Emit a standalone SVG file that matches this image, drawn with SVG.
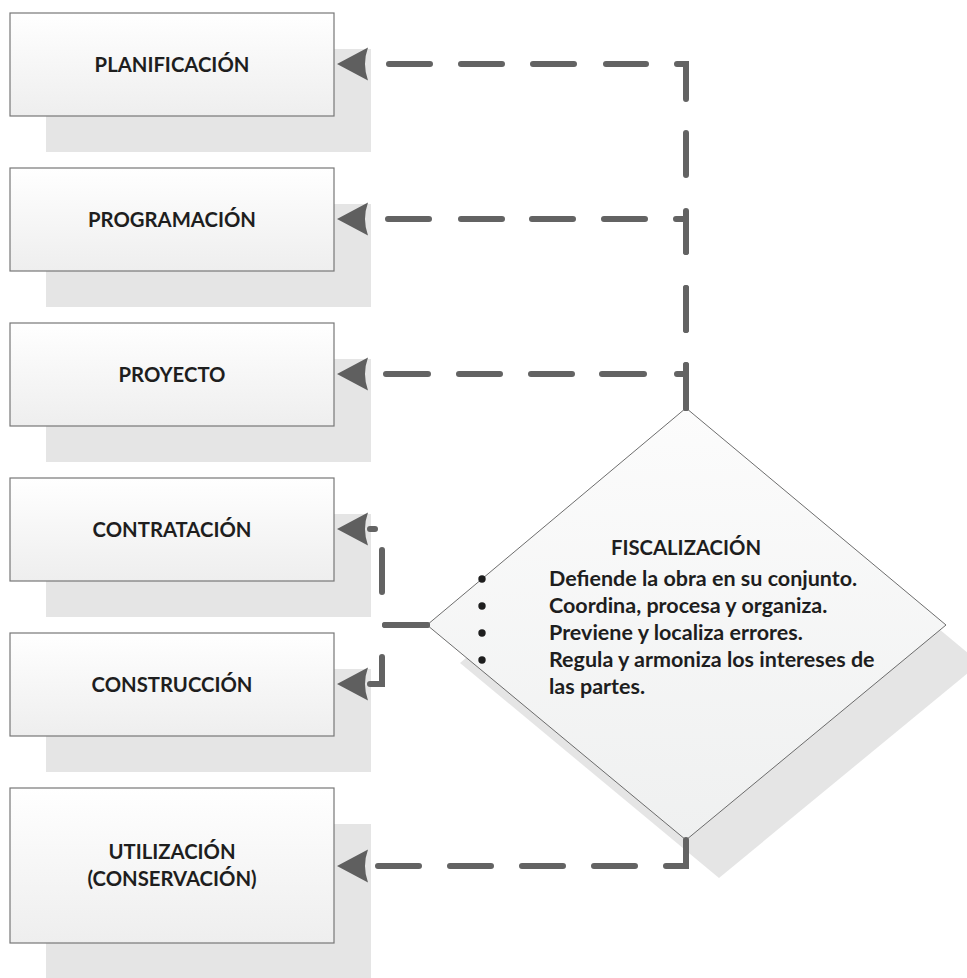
<svg xmlns="http://www.w3.org/2000/svg" width="967" height="978" viewBox="0 0 967 978">
<style>
.shadow{fill:#e5e5e5;stroke:none}
.box{fill:url(#boxGrad);stroke:#777777;stroke-width:1.2}
.dia{fill:url(#diaGrad);stroke:#5c5c5c;stroke-width:0.9}
.lbl{font-family:Lato,"Open Sans",sans-serif;font-weight:bold;font-size:20.3px;fill:#1e1e1e;text-anchor:middle}
.body{font-family:Lato,"Open Sans",sans-serif;font-weight:bold;font-size:21.5px;fill:#1e1e1e}
.conn{fill:none;stroke:#636363;stroke-width:6;stroke-linecap:round;stroke-linejoin:miter;marker-end:url(#arrow)}
</style>
<defs>
<linearGradient id="boxGrad" x1="0" y1="0" x2="0" y2="1">
<stop offset="0" stop-color="#ffffff"/>
<stop offset="1" stop-color="#eeeeee"/>
</linearGradient>
<linearGradient id="diaGrad" x1="0" y1="0" x2="0" y2="1">
<stop offset="0" stop-color="#fcfcfc"/>
<stop offset="1" stop-color="#eff0f0"/>
</linearGradient>
<marker id="arrow" markerUnits="userSpaceOnUse" viewBox="0 -20 40 40" refX="0" refY="0" markerWidth="40" markerHeight="40" orient="auto" overflow="visible">
<path d="M33,0 L2,-16.5 Q8,0 2,16.5 Z" fill="#5f5f5f"/>
</marker>
</defs>

<g id="planificacion">
<rect class="shadow" x="46" y="49" width="325" height="103"/>
<rect class="box" x="10" y="13" width="324" height="103"/>
<text class="lbl" x="172" y="72">PLANIFICACIÓN</text>
</g>
<g id="programacion">
<rect class="shadow" x="46" y="204" width="325" height="103"/>
<rect class="box" x="10" y="168" width="324" height="103"/>
<text class="lbl" x="172" y="227">PROGRAMACIÓN</text>
</g>
<g id="proyecto">
<rect class="shadow" x="46" y="359" width="325" height="103"/>
<rect class="box" x="10" y="323" width="324" height="103"/>
<text class="lbl" x="172" y="382">PROYECTO</text>
</g>
<g id="contratacion">
<rect class="shadow" x="46" y="514" width="325" height="103"/>
<rect class="box" x="10" y="478" width="324" height="103"/>
<text class="lbl" x="172" y="537">CONTRATACIÓN</text>
</g>
<g id="construccion">
<rect class="shadow" x="46" y="669" width="325" height="103"/>
<rect class="box" x="10" y="633" width="324" height="103"/>
<text class="lbl" x="172" y="692">CONSTRUCCIÓN</text>
</g>
<g id="utilizacion">
<rect class="shadow" x="46" y="824" width="325" height="155"/>
<rect class="box" x="10" y="788" width="324" height="155"/>
<text class="lbl" x="172" y="859">UTILIZACIÓN</text>
<text class="lbl" x="172" y="886">(CONSERVACIÓN)</text>
</g>
<g id="fiscalizacion">
<polygon class="shadow" points="719,446 980,663 719,878 460,663"/>
<polygon class="dia" points="686,408 946,625 686,840 427,625"/>
<text class="lbl" x="686" y="555">FISCALIZACIÓN</text>
<circle cx="482" cy="579" r="3.7" fill="#1e1e1e"/>
<circle cx="482" cy="606" r="3.7" fill="#1e1e1e"/>
<circle cx="482" cy="633" r="3.7" fill="#1e1e1e"/>
<circle cx="482" cy="660" r="3.7" fill="#1e1e1e"/>
<text class="body" x="549" y="586">Defiende la obra en su conjunto.</text>
<text class="body" x="549" y="613">Coordina, procesa y organiza.</text>
<text class="body" x="549" y="640">Previene y localiza errores.</text>
<text class="body" x="549" y="667">Regula y armoniza los intereses de</text>
<text class="body" x="549" y="694">las partes.</text>
</g>

<g id="connectors">
<path class="conn" d="M686,408 V64 H370" stroke-dasharray="43 35 42 36 41 36 42 34 44 31 40 32 41 31 41 31 41 40"/>
<path class="conn" d="M686,408 V219 H370" stroke-dasharray="43 35 42 36 43 31 41 31 41 30 41 32 41 40"/>
<path class="conn" d="M686,408 V374 H370" stroke-dasharray="43 33 42 30 41 31 41 31 42 40"/>
<path class="conn" d="M427,625 H382 V529 H370" stroke-dasharray="42 36 42 28 20"/>
<path class="conn" d="M427,625 H382 V684 H370" stroke-dasharray="42 35 100"/>
<path class="conn" d="M686,840 V866 H370" stroke-dasharray="46 31 41 31 41 31 41 31 41 31 41 40"/>
</g>
</svg>
